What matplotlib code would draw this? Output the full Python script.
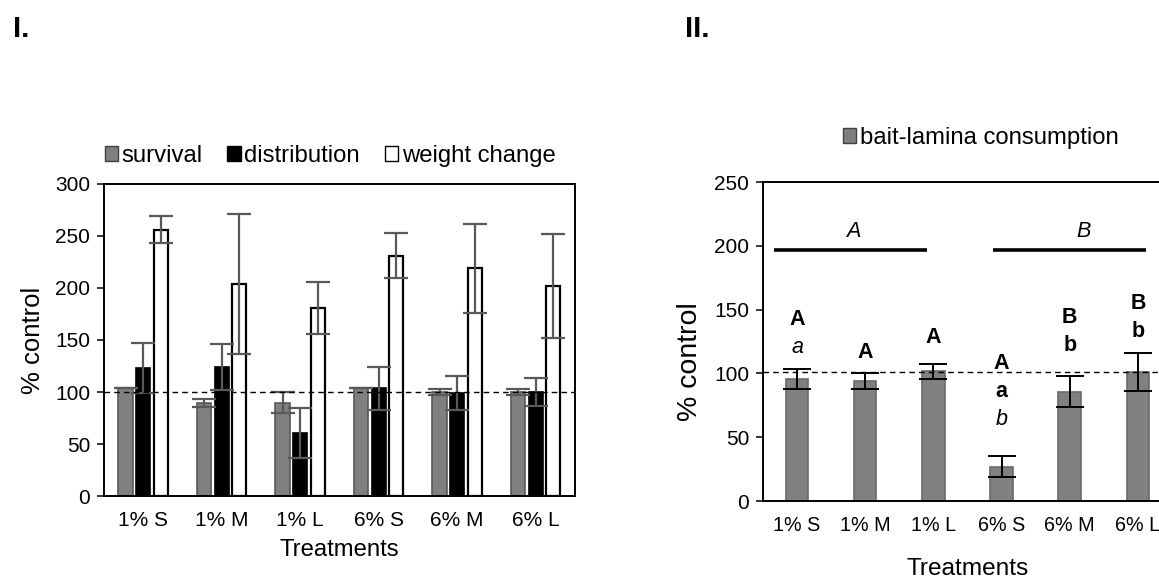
import numpy as np
import matplotlib
matplotlib.use("Agg")
import matplotlib.pyplot as plt
from matplotlib.patches import Patch

plt.rcParams["font.family"] = ["Liberation Sans", "DejaVu Sans"]

# ── данные ───────────────────────────────────────────────────────────────────
treatments = ["1% S", "1% M", "1% L", "6% S", "6% M", "6% L"]

survival = [103.5, 89.7, 89.7, 103.5, 99.7, 99.7]
survival_err = [0.0, 4.0, 10.0, 0.0, 3.0, 3.0]
distribution = [122.8, 124.4, 60.3, 103.5, 99.0, 99.7]
distribution_err = [24.0, 22.0, 24.0, 20.5, 16.0, 13.3]
weight_change = [255.8, 203.8, 181.0, 230.8, 218.9, 202.2]
weight_change_err = [13.0, 67.0, 25.0, 21.6, 42.5, 50.0]

bait_lamina = [95.4, 94.1, 101.5, 26.9, 85.8, 101.0]
bait_lamina_err = [8.0, 6.0, 6.0, 8.0, 12.0, 15.0]

# буквы над столбцами (снизу вверх): (текст, стиль)
sig_letters = [
    [("a", "italic"), ("A", "bold")],
    [("A", "bold")],
    [("A", "bold")],
    [("b", "italic"), ("a", "bold"), ("A", "bold")],
    [("b", "bold"), ("B", "bold")],
    [("b", "bold"), ("B", "bold")],
]
sig_base = [120, 116, 128, 64, 122, 133]
group_labels = ["A", "B"]

GRAY = "#808080"
EDGE = "#595959"

fig = plt.figure(figsize=(11.59, 5.80), dpi=100)

# ── панель I ─────────────────────────────────────────────────────────────────
ax1 = fig.add_axes([0.0897, 0.1448, 0.4064, 0.5380])
x = np.arange(len(treatments))
w = 0.18
off = 0.225
ekw = dict(ecolor=EDGE, elinewidth=1.6, capsize=8.5, capthick=1.6)
ax1.bar(x - off, survival, w, color=GRAY, edgecolor=EDGE, linewidth=1.2,
        yerr=survival_err, error_kw=ekw, zorder=2)
ax1.bar(x, distribution, w, color="black", edgecolor="black", linewidth=1.2,
        yerr=distribution_err, error_kw=ekw, zorder=2)
ax1.bar(x + off, weight_change, w, color="white", edgecolor="black", linewidth=1.6,
        yerr=weight_change_err, error_kw=ekw, zorder=2)
ax1.axhline(100, color="black", linestyle=(0, (4, 3)), linewidth=1.0, zorder=3)

ax1.set_xlim(-0.5, len(treatments) - 0.5)
ax1.set_ylim(0, 300)
ax1.set_yticks(np.arange(0, 301, 50))
ax1.set_xticks(x)
ax1.set_xticklabels(treatments)
ax1.tick_params(axis="x", length=0, pad=11, labelsize=15)
ax1.tick_params(axis="y", length=5, width=1.1, pad=5, labelsize=15)
for s in ax1.spines.values():
    s.set_linewidth(1.4)
ax1.set_ylabel("% control", fontsize=18.5)
ax1.yaxis.set_label_coords(-0.125, 0.5)
ax1.set_xlabel("Treatments", fontsize=17.2, labelpad=6)

fig.legend(handles=[Patch(facecolor=GRAY, edgecolor="#404040", label="survival"),
                    Patch(facecolor="black", edgecolor="black", label="distribution"),
                    Patch(facecolor="white", edgecolor="black", label="weight change")],
           loc="center", bbox_to_anchor=(0.2847, 0.731), ncol=3, frameon=False,
           fontsize=17.2, handlelength=0.55, handleheight=0.55, handletextpad=0.15,
           columnspacing=1.05)
fig.text(0.011, 0.95, "I.", fontsize=21, fontweight="bold", va="center")

# ── панель II ────────────────────────────────────────────────────────────────
ax2 = fig.add_axes([0.6583, 0.1362, 0.3529, 0.5500])
ax2.bar(x, bait_lamina, 0.33, color=GRAY, edgecolor="#6a6a6a", linewidth=1.2,
        yerr=bait_lamina_err,
        error_kw=dict(ecolor="black", elinewidth=1.4, capsize=10, capthick=1.4),
        zorder=2)
ax2.axhline(101, color="black", linestyle=(0, (4, 3)), linewidth=1.0, zorder=3)

for xi, base, letters in zip(x, sig_base, sig_letters):
    for k, (txt, style) in enumerate(letters):
        ax2.text(xi, base + 22 * k, txt, ha="center", va="center", fontsize=15.5,
                 fontweight="bold" if style == "bold" else "normal",
                 fontstyle="italic" if style == "italic" else "normal")

ax2.plot([-0.34, 1.9], [197, 197], color="black", linewidth=2.6, solid_capstyle="butt")
ax2.plot([2.88, 5.12], [197, 197], color="black", linewidth=2.6, solid_capstyle="butt")
ax2.text(0.82, 211, group_labels[0], ha="center", va="center", fontsize=15.5, fontstyle="italic")
ax2.text(4.2, 211, group_labels[1], ha="center", va="center", fontsize=15.5, fontstyle="italic")

ax2.set_xlim(-0.5, len(treatments) - 0.5)
ax2.set_ylim(0, 250)
ax2.set_yticks(np.arange(0, 251, 50))
ax2.set_xticks(x)
ax2.set_xticklabels(treatments)
ax2.tick_params(axis="x", length=0, pad=11, labelsize=14.2)
ax2.tick_params(axis="y", length=5, width=1.1, pad=5, labelsize=15)
for s in ax2.spines.values():
    s.set_linewidth(1.4)
ax2.set_ylabel("% control", fontsize=20.5)
ax2.yaxis.set_label_coords(-0.146, 0.436)
ax2.set_xlabel("Treatments", fontsize=17.6, labelpad=16)

fig.legend(handles=[Patch(facecolor=GRAY, edgecolor="#404040", label="bait-lamina consumption")],
           loc="center", bbox_to_anchor=(0.8465, 0.762), frameon=False,
           fontsize=17.2, handlelength=0.55, handleheight=0.55, handletextpad=0.15)
fig.text(0.591, 0.95, "II.", fontsize=21, fontweight="bold", va="center")

fig.savefig("out.png", dpi=100)
